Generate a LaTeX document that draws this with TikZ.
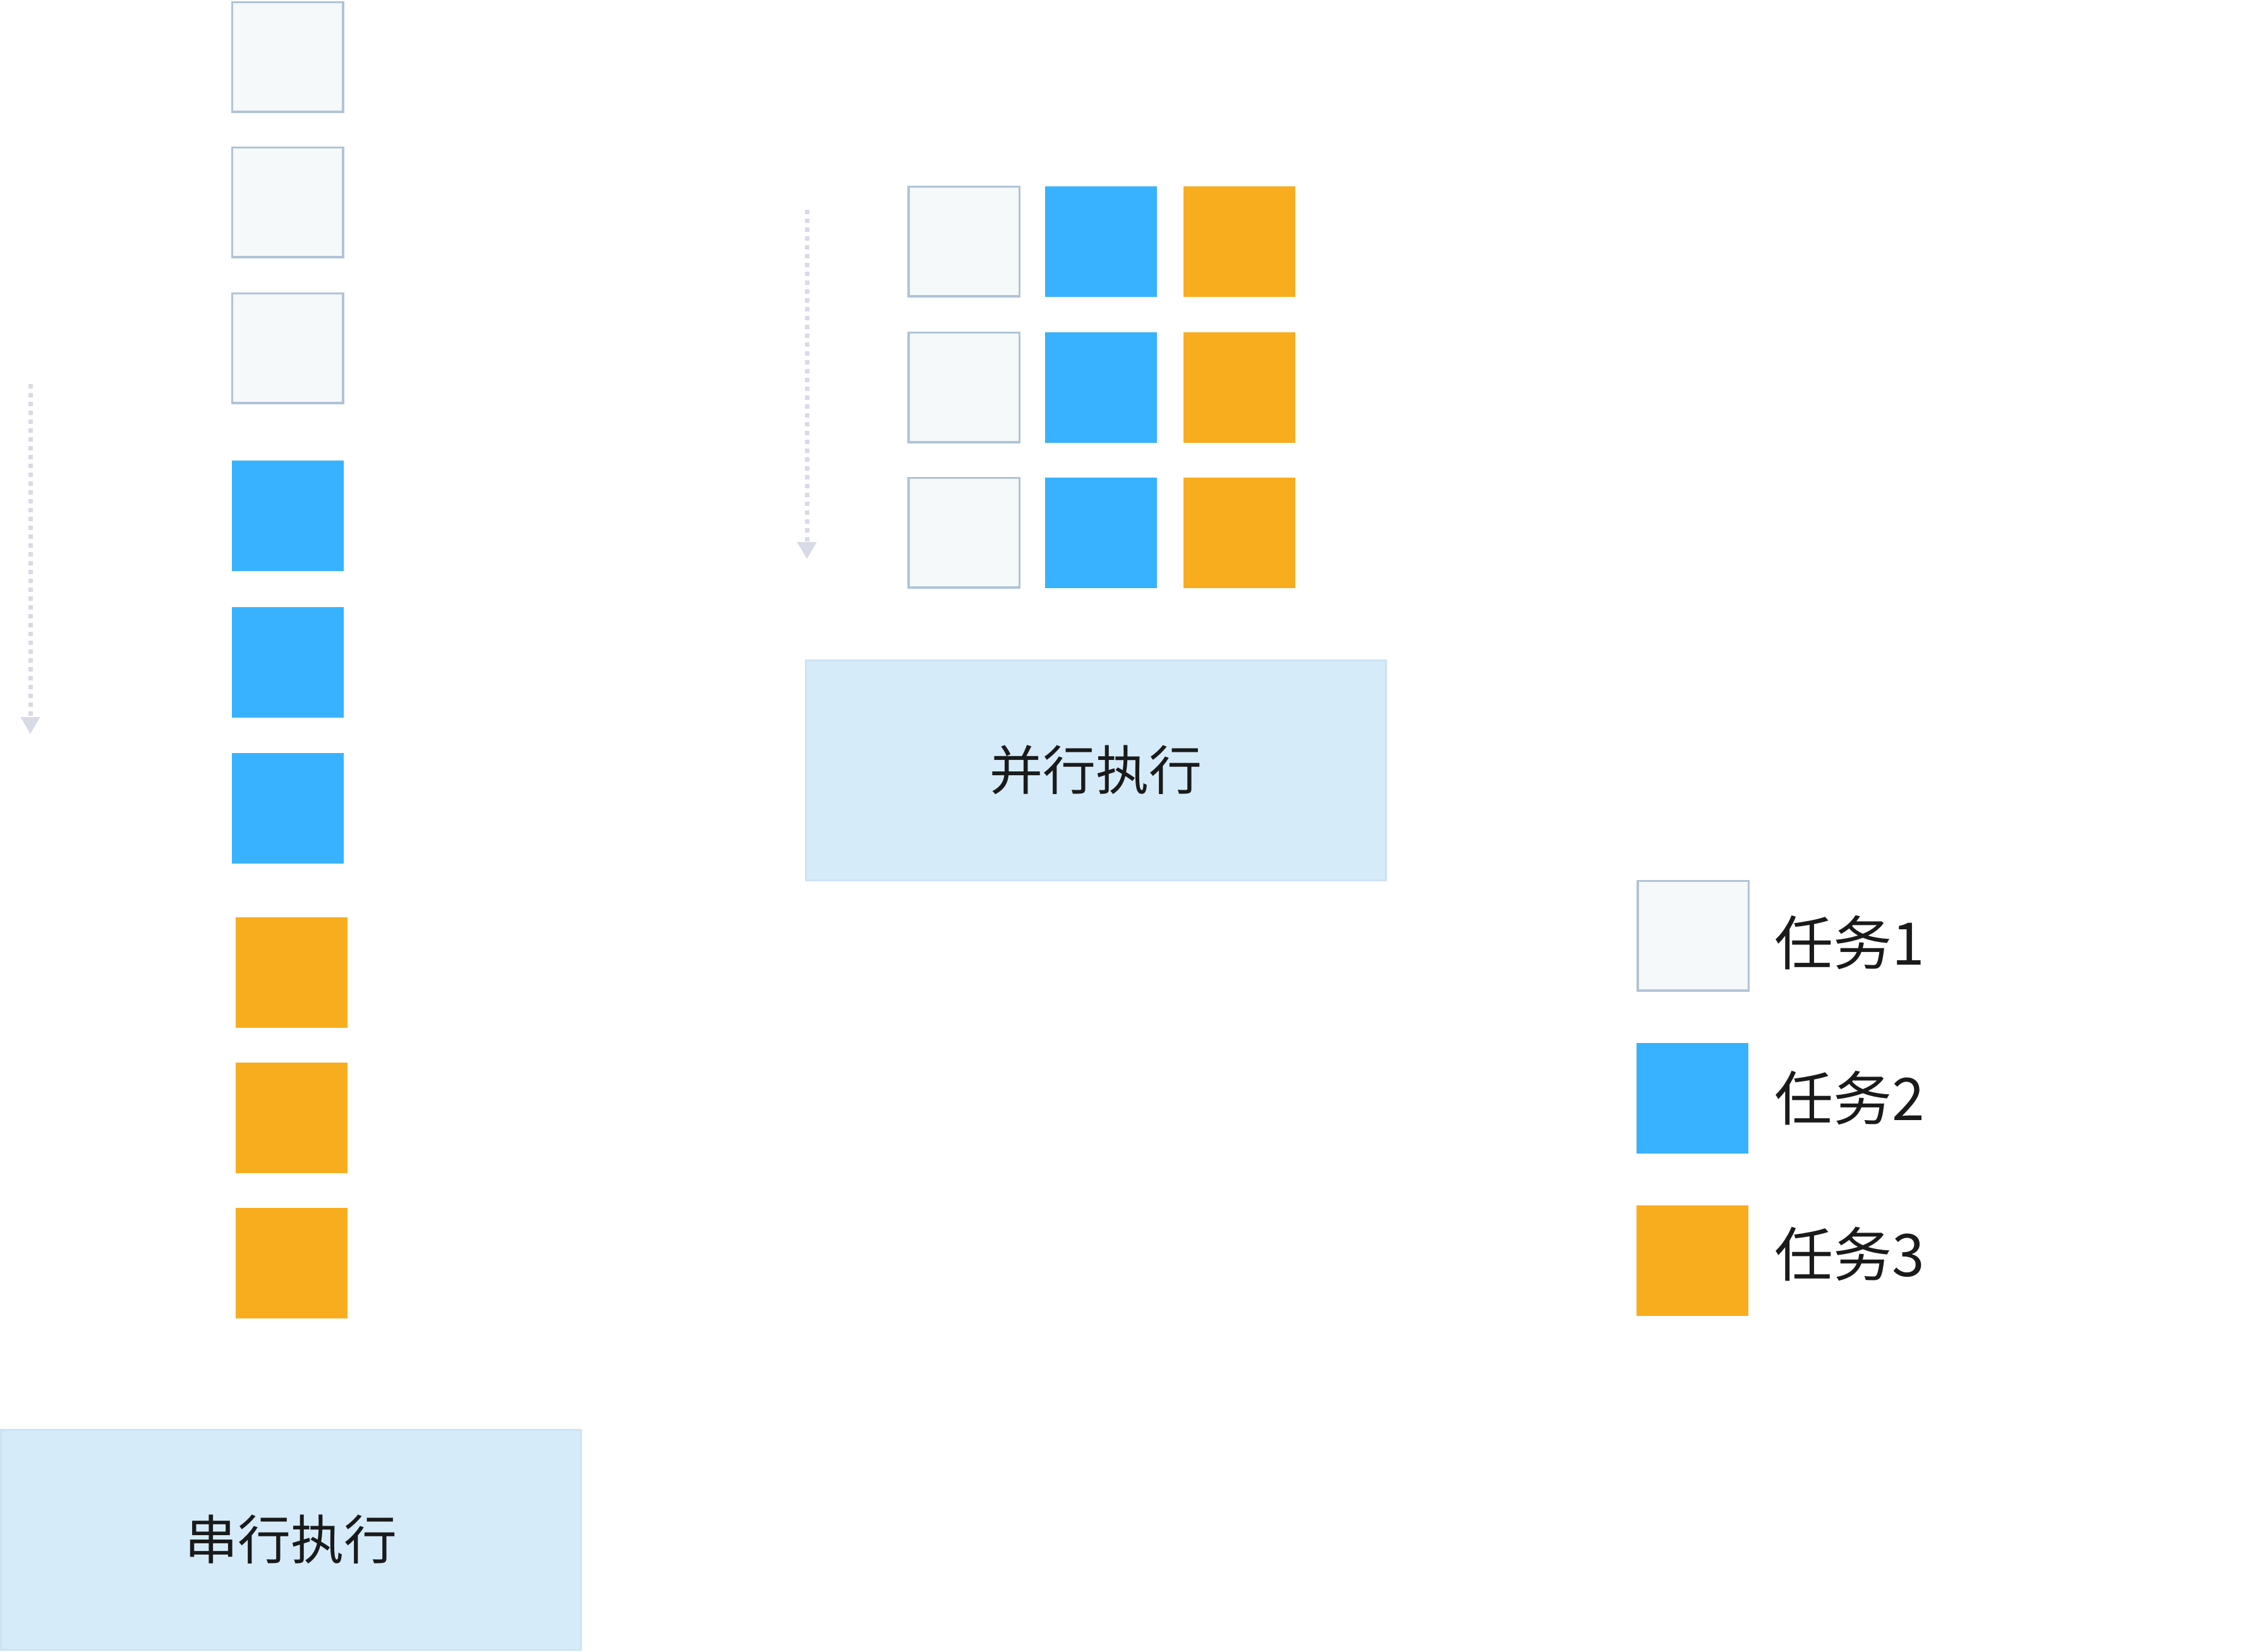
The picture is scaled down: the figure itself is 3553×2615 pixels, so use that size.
\documentclass[tikz,border=0pt]{standalone}
\usepackage{fontspec}
\newfontfamily\cjk{Noto Sans CJK SC}
\usetikzlibrary{arrows.meta}
\definecolor{tonefill}{HTML}{F5F9FA}
\definecolor{toneline}{HTML}{B0C4D8}
\definecolor{ttwofill}{HTML}{38B2FE}
\definecolor{tthreefill}{HTML}{F8AD1F}
\definecolor{lblfill}{HTML}{D6EBF9}
\definecolor{lblline}{HTML}{CBE3F5}
\definecolor{arrowc}{HTML}{D8DAE5}
\definecolor{txtc}{HTML}{1A1A1A}
\begin{document}
\begin{tikzpicture}[x=1pt,y=-1pt,
  cell/.style={rectangle, inner sep=0pt, minimum width=177pt, minimum height=175pt, anchor=center},
  taskone/.style={cell, draw=toneline, line width=3.5pt, fill=tonefill, minimum width=175.5pt, minimum height=173.5pt},
  tasktwo/.style={cell, fill=ttwofill},
  taskthree/.style={cell, fill=tthreefill},
  lblbox/.style={rectangle, inner sep=0pt, draw=lblline, line width=3pt, fill=lblfill, minimum width=918pt, minimum height=348pt, text=txtc, font=\cjk\fontsize{84}{84}\selectfont},
  legtext/.style={anchor=west, inner sep=0pt, text=txtc, font=\cjk\fontsize{93}{93}\selectfont},
  timearrow/.style={draw=arrowc, line width=7pt, dash pattern=on 7pt off 7pt, -{Triangle[width=29pt,length=27pt]}}
]
\useasboundingbox (0,0) rectangle (3553,2615);
% serial column
\node[taskone] (s1) at (455,90) {};
\node[taskone] (s2) at (455,320) {};
\node[taskone] (s3) at (455,551) {};
\node[tasktwo] (s4) at (455.5,816.5) {};
\node[tasktwo] (s5) at (455.5,1048) {};
\node[tasktwo] (s6) at (455.5,1279) {};
\node[taskthree] (s7) at (461.5,1539) {};
\node[taskthree] (s8) at (461.5,1769.5) {};
\node[taskthree] (s9) at (461.5,1999.5) {};
\node[lblbox] (serial) at (460.5,2437) {串行执行};
% parallel grid
\node[taskone] (p11) at (1525.5,382) {};
\node[tasktwo] (p12) at (1742.5,382) {};
\node[taskthree] (p13) at (1961,382) {};
\node[taskone] (p21) at (1525.5,613) {};
\node[tasktwo] (p22) at (1742.5,613) {};
\node[taskthree] (p23) at (1961,613) {};
\node[taskone] (p31) at (1525.5,843) {};
\node[tasktwo] (p32) at (1742.5,843) {};
\node[taskthree] (p33) at (1961,843) {};
\node[lblbox] (parallel) at (1734.5,1219) {并行执行};
% time arrows
\coordinate (a1s) at (48,608);
\coordinate (a1e) at (48,1162);
\coordinate (a2s) at (1277,332);
\coordinate (a2e) at (1277,885);
\draw[timearrow] (a1s) -- (a1e);
\draw[timearrow] (a2s) -- (a2e);
% legend
\node[taskone] (l1) at (2679.5,1481) {};
\node[tasktwo] (l2) at (2678,1738.5) {};
\node[taskthree] (l3) at (2678,1995.5) {};
\node[legtext] (l1t) at (2808,1492) {任务1};
\node[legtext] (l2t) at (2808,1738) {任务2};
\node[legtext] (l3t) at (2808,1985) {任务3};
\end{tikzpicture}
\end{document}
